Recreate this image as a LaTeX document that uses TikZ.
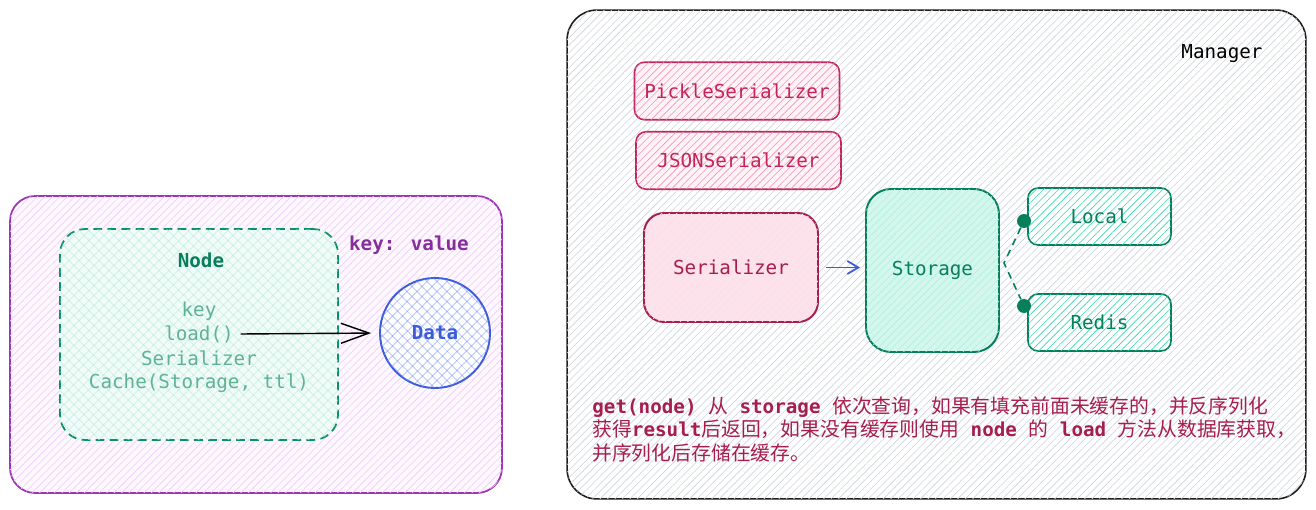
\documentclass[tikz,border=0pt,11pt]{standalone}
\usepackage{fontspec}
\setmainfont{DejaVu Sans Mono}
\setmonofont{DejaVu Sans Mono}
\newfontfamily\cjk[Scale=1.03]{Noto Sans CJK SC}
\usetikzlibrary{arrows.meta,patterns.meta}

\definecolor{purpleline}{HTML}{9C36B5}
\definecolor{purpletext}{HTML}{862E9C}
\definecolor{purplefill}{HTML}{EEBEFA}
\definecolor{tealline}{HTML}{099268}
\definecolor{tealtext}{HTML}{5FB393}
\definecolor{tealfill}{HTML}{8CE0C4}
\definecolor{blueline}{HTML}{3B5BDB}
\definecolor{bluefill}{HTML}{748FFC}
\definecolor{greyline}{HTML}{1E1E1E}
\definecolor{greyfill}{HTML}{CED4DA}
\definecolor{pinkline}{HTML}{C2255C}
\definecolor{pinkfill}{HTML}{F06595}
\definecolor{serline}{HTML}{A61E4D}
\definecolor{greenline}{HTML}{087F5B}
\definecolor{greenfill}{HTML}{38D9A9}

\begin{document}
\begin{tikzpicture}[x=0.02cm, y=-0.02cm,
    hatch/.style={postaction={pattern color=#1, pattern={Lines[angle=45,distance=3pt,line width=0.35pt]}}},
    crosshatch/.style={postaction={pattern color=#1, pattern={Hatch[angle=45,distance=4pt,line width=0.35pt]}}},
    serbox/.style={draw=pinkline, line width=0.9pt, rounded corners=0.2cm, minimum width=4.1cm,
        minimum height=1.15cm, text=pinkline, fill=pinkfill!8, hatch=pinkfill!70},
    backbox/.style={draw=greenline, line width=0.9pt, rounded corners=0.2cm, minimum width=2.86cm,
        minimum height=1.14cm, text=greenline, fill=white, hatch=greenfill},
    dot/.style={circle, fill=greenline, inner sep=0pt, minimum size=0.28cm},
    nline/.style={text=tealtext}]
    \useasboundingbox (0,0) rectangle (1316,510);
    % the cached entry
    \node[draw=purpleline, line width=1pt, rounded corners=0.5cm, minimum width=9.84cm, minimum height=5.94cm,
        fill=purplefill!12, hatch=purplefill!80] (entry) at (256,344.5) {};
    \node[draw=tealline, line width=1pt, dash pattern=on 5pt off 3pt, rounded corners=0.5cm,
        minimum width=5.56cm, minimum height=4.22cm, fill=tealfill!12, crosshatch=tealfill!70] (nodebox) at (199,334.5) {};
    \node[text=greenline, font=\bfseries] (ntitle) at (201,260) {Node};
    \node[nline] (nkey) at (199,311) {key};
    \node[nline] (nload) at (199,334) {load()};
    \node[nline] (nser) at (199,358) {Serializer};
    \node[nline] (ncache) at (199,383) {Cache(Storage, ttl)};
    \node[text=purpletext, font=\bfseries] (kv) at (409,245) {key: value};
    \node[circle, draw=blueline, line width=1.1pt, minimum size=2.2cm, fill=white, crosshatch=bluefill,
        text=blueline, font=\bfseries] (data) at (435,333) {Data};
    \draw[line width=0.8pt, -{Straight Barb[length=0.56cm,width=0.4cm]}, shorten >=0.16cm] (nload.east) -- (data.west);
    % the manager
    \node[draw=greyline, line width=0.9pt, rounded corners=0.6cm, minimum width=14.78cm, minimum height=9.78cm,
        fill=white, hatch=greyfill] (manager) at (936.5,254.5) {};
    \node (mlabel) at (1222,54) {Manager};
    \node[serbox] (pickle) at (737,91) {PickleSerializer};
    \node[serbox] (json) at (738.5,160.5) {JSONSerializer};
    \node[draw=serline, line width=1.1pt, rounded corners=0.4cm, minimum width=3.48cm, minimum height=2.18cm,
        text=serline, fill=pinkfill!20, hatch=pinkfill!15] (ser) at (731,267.5) {Serializer};
    \node[draw=greenline, line width=1.1pt, rounded corners=0.5cm, minimum width=2.66cm, minimum height=3.26cm,
        text=greenline, fill=greenfill!22, hatch=greenfill!40] (storage) at (932.5,270.5) {Storage};
    \draw[blueline, line width=1pt, -{Straight Barb[length=0.22cm,width=0.26cm]}, shorten <=0.14cm,
        shorten >=0.1cm] (ser.east) -- (ser.east -| storage.west);
    \node[backbox] (local) at (1099.5,216.5) {Local};
    \node[backbox] (redis) at (1099.5,322.5) {Redis};
    \coordinate (split) at (1004,263);
    \node[dot] (dlocal) at (1024,221) {};
    \node[dot] (dredis) at (1024,306) {};
    \draw[greenline, line width=0.9pt, dash pattern=on 4pt off 3pt] (dlocal) -- (split) -- (dredis);
    \node[anchor=north west, align=left, text=serline, inner sep=0pt] (note) at (592,396)
        {\textbf{get(node)} {\cjk 从} \textbf{storage} {\cjk 依次查询，如果有填充前面未缓存的，并反序列化}\\
         {\cjk 获得}\textbf{result}{\cjk 后返回，如果没有缓存则使用} \textbf{node} {\cjk 的} \textbf{load} {\cjk 方法从数据库获取，}\\
         {\cjk 并序列化后存储在缓存。}};
\end{tikzpicture}
\end{document}
